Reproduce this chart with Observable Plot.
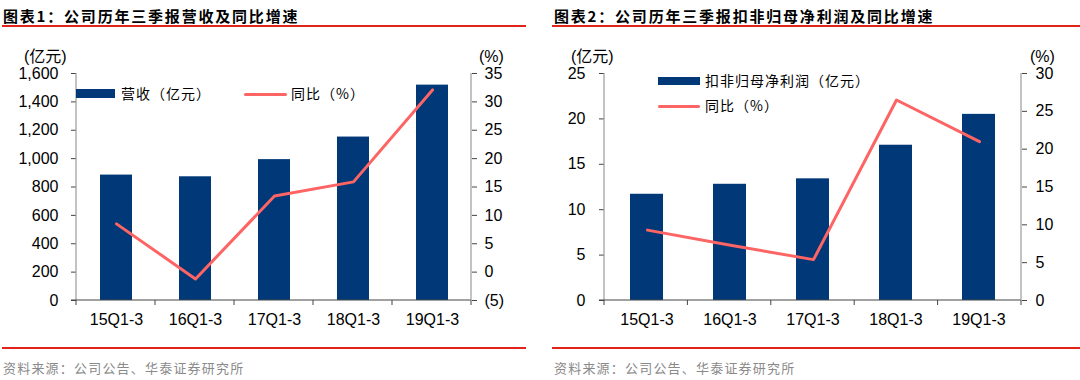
<!DOCTYPE html>
<html><head><meta charset="utf-8">
<script src="https://cdn.jsdelivr.net/npm/d3@7"></script>
<script src="https://cdn.jsdelivr.net/npm/@observablehq/plot@0.6"></script>
<style>
body{margin:0;width:1080px;height:380px;background:#fff;position:relative;overflow:hidden;font-family:"Liberation Sans",Arial,sans-serif;}
.abs{position:absolute;white-space:nowrap;line-height:1;}
.title{font-family:"Noto Sans CJK SC";font-weight:700;font-size:15px;letter-spacing:1.8px;color:#000;}
.red{position:absolute;height:2px;background:#e2231a;}
.src{font-family:"Noto Sans CJK SC";font-size:13px;letter-spacing:1.2px;color:#8a8a8a;}
.unit{font-family:"Liberation Sans","Noto Sans CJK SC";font-size:16px;color:#000;}
.leg{font-family:"Noto Sans CJK SC";font-size:14px;letter-spacing:1px;color:#000;}
.sw{position:absolute;}
svg{position:absolute;top:0;}
</style></head>
<body>
<div id="root"></div>
<script>
// ---- data ----
const periods = ["15Q1-3", "16Q1-3", "17Q1-3", "18Q1-3", "19Q1-3"];
const revenue = [884, 872, 993, 1152, 1518];          // 营收（亿元）
const revenueYoY = [8.5, -1.2, 13.4, 15.9, 32.1];     // 同比（%）
const profit = [11.7, 12.8, 13.4, 17.1, 20.5];        // 扣非归母净利润（亿元）
const profitYoY = [9.3, 7.3, 5.4, 26.5, 21.0];        // 同比（%）
const revTicks = [0, 200, 400, 600, 800, 1000, 1200, 1400, 1600];
const revYoYTicks = [-5, 0, 5, 10, 15, 20, 25, 30, 35];
const profTicks = [0, 5, 10, 15, 20, 25];
const profYoYTicks = [0, 5, 10, 15, 20, 25, 30];

const NAVY = "#003878", SALMON = "#fd6464";
const H = 340, MT = 73, MB = 40;
const fontStyle = {fontFamily: "'Liberation Sans', Arial, sans-serif", fontSize: "16px", color: "#000", background: "transparent", overflow: "visible"};
const pct = d => d < 0 ? `(${Math.abs(d)})` : `${d}`;

function leftFrame(index, scales, values, dims) {
  const {width, height, marginLeft, marginRight, marginTop, marginBottom} = dims;
  const x0 = marginLeft, x1 = width - marginRight, yb = height - marginBottom;
  const g = d3.create("svg:g");
  g.append("line").attr("x1", x0).attr("x2", x0).attr("y1", marginTop).attr("y2", yb).attr("stroke", "#9a9a9a").attr("stroke-width", 1.2);
  g.append("line").attr("x1", x0 - 5).attr("x2", x1).attr("y1", yb).attr("y2", yb).attr("stroke", "#444");
  const n = periods.length;
  for (let i = 0; i <= n; i++) {
    const xx = x0 + i * (x1 - x0) / n;
    g.append("line").attr("x1", xx).attr("x2", xx).attr("y1", yb).attr("y2", yb + 5).attr("stroke", "#444");
  }
  return g.node();
}
function rightFrame(index, scales, values, dims) {
  const {width, height, marginRight, marginTop, marginBottom} = dims;
  const x1 = width - marginRight, yb = height - marginBottom;
  const g = d3.create("svg:g");
  g.append("line").attr("x1", x1).attr("x2", x1).attr("y1", marginTop).attr("y2", yb).attr("stroke", "#9a9a9a").attr("stroke-width", 1.2);
  return g.node();
}

function panel(o) {
  const bars = periods.map((p, i) => ({period: p, value: o.barVals[i]}));
  const line = periods.map((p, i) => ({period: p, value: o.lineVals[i]}));
  const common = {width: 540, height: H, marginTop: MT, marginBottom: MB, marginLeft: o.ml, marginRight: o.mr, style: fontStyle};
  const p1 = Plot.plot({
    ...common,
    x: {domain: periods, paddingInner: 0.6, paddingOuter: 0.3, label: null},
    y: {domain: o.barDomain, label: null},
    marks: [
      Plot.barY(bars, {x: "period", y: "value", fill: NAVY}),
      Plot.axisY({ticks: o.barTicks, tickFormat: o.barFmt, tickSize: 5, tickPadding: o.lpad, stroke: "#444", fill: "#000", label: null}),
      Plot.axisX({tickSize: 0, tickPadding: 13, fill: "#000", label: null}),
      leftFrame
    ]
  });
  const p2 = Plot.plot({
    ...common,
    x: {type: "point", domain: periods, padding: 0.5, axis: null},
    y: {domain: o.lineDomain, label: null},
    marks: [
      Plot.line(line, {x: "period", y: "value", stroke: SALMON, strokeWidth: 3}),
      Plot.axisY({anchor: "right", ticks: o.lineTicks, tickFormat: o.lineFmt, tickSize: 5, tickPadding: o.rpad, stroke: "#444", fill: "#000", label: null}),
      rightFrame
    ]
  });
  p1.style.left = o.left + "px";
  p2.style.left = o.left + "px";
  document.body.appendChild(p1);
  document.body.appendChild(p2);
}

panel({left: 0, ml: 76, mr: 69, barVals: revenue, barDomain: [0, 1600], barTicks: revTicks, barFmt: d3.format(","),
  lineVals: revenueYoY, lineDomain: [-5, 35], lineTicks: revYoYTicks, lineFmt: pct, lpad: 13, rpad: 8});
panel({left: 540, ml: 64, mr: 59, barVals: profit, barDomain: [0, 25], barTicks: profTicks, barFmt: d => `${d}`,
  lineVals: profitYoY, lineDomain: [0, 30], lineTicks: profYoYTicks, lineFmt: pct, lpad: 14, rpad: 9});

// ---- text & decorations ----
const html = `
<div class="abs title" style="left:3px;top:8px;">图表1：公司历年三季报营收及同比增速</div>
<div class="red" style="left:2px;width:524px;top:25px;"></div>
<div class="abs title" style="left:554px;top:8px;">图表2：公司历年三季报扣非归母净利润及同比增速</div>
<div class="red" style="left:552px;width:528px;top:25px;"></div>

<div class="abs unit" style="left:24px;top:49px;">(亿元)</div>
<div class="abs unit" style="left:479px;top:49px;">(%)</div>
<div class="abs unit" style="left:571px;top:49px;">(亿元)</div>
<div class="abs unit" style="left:1030px;top:49px;">(%)</div>

<div class="sw" style="left:76px;top:89px;width:39px;height:9px;background:${NAVY};"></div>
<div class="abs leg" style="left:121px;top:86px;">营收（亿元）</div>
<div class="sw" style="left:244px;top:92.5px;width:43px;height:3.5px;border-radius:2px;background:${SALMON};"></div>
<div class="abs leg" style="left:291px;top:86px;">同比（%）</div>

<div class="sw" style="left:658px;top:77px;width:42px;height:8px;background:${NAVY};"></div>
<div class="abs leg" style="left:705px;top:73px;">扣非归母净利润（亿元）</div>
<div class="sw" style="left:658px;top:104.5px;width:42px;height:3.5px;border-radius:2px;background:${SALMON};"></div>
<div class="abs leg" style="left:705px;top:98px;">同比（%）</div>

<div class="red" style="left:2px;width:524px;top:347px;"></div>
<div class="red" style="left:552px;width:528px;top:347px;"></div>
<div class="abs src" style="left:3px;top:361px;">资料来源：公司公告、华泰证券研究所</div>
<div class="abs src" style="left:554px;top:361px;">资料来源：公司公告、华泰证券研究所</div>
`;
document.body.insertAdjacentHTML("beforeend", html);
</script>
</body></html>
